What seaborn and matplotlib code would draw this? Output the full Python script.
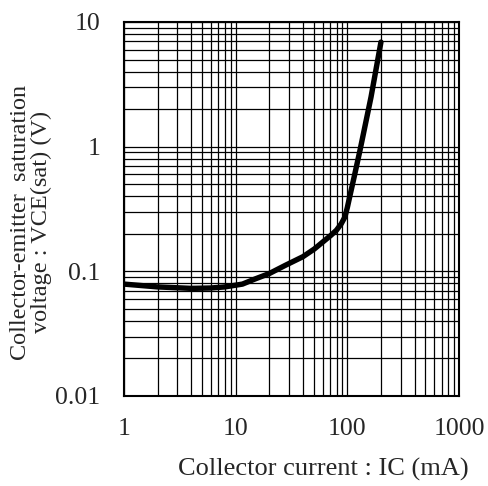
import matplotlib
matplotlib.use("Agg")
import matplotlib.pyplot as plt
import seaborn as sns
import pandas as pd
from matplotlib.ticker import LogLocator, NullFormatter, FixedLocator, FixedFormatter

# Data
ic_ma = [1, 2, 4, 6, 8, 11.5, 15, 20, 28, 40, 50.6, 71.5, 80, 88, 95, 100, 105, 117, 130, 163, 200]
vce_sat = [0.079, 0.075, 0.073, 0.0735, 0.075, 0.079, 0.087, 0.096, 0.112, 0.131, 0.151,
           0.195, 0.214, 0.24, 0.272, 0.325, 0.396, 0.611, 0.94, 2.5, 6.9]
x_ticks = [1, 10, 100, 1000]
x_tick_labels = ["1", "10", "100", "1000"]
y_ticks = [0.01, 0.1, 1, 10]
y_tick_labels = ["0.01", "0.1", "1", "10"]

sns.set_style("white")
plt.rcParams["font.family"] = ["Liberation Serif", "DejaVu Serif"]

df = pd.DataFrame({"ic": ic_ma, "vce": vce_sat})

fig = plt.figure(figsize=(4.88, 4.86), dpi=100)
ax = fig.add_axes([124 / 488, 1 - 396 / 486, 335 / 488, 374 / 486])

sns.lineplot(data=df, x="ic", y="vce", ax=ax, color="black", linewidth=3.9,
             zorder=5, solid_joinstyle="round", solid_capstyle="round")

ax.set_xscale("log")
ax.set_yscale("log")
ax.set_xlim(1, 1000)
ax.set_ylim(0.01, 10)

ax.xaxis.set_major_locator(FixedLocator(x_ticks))
ax.xaxis.set_major_formatter(FixedFormatter(x_tick_labels))
ax.yaxis.set_major_locator(FixedLocator(y_ticks))
ax.yaxis.set_major_formatter(FixedFormatter(y_tick_labels))
ax.xaxis.set_minor_locator(LogLocator(base=10, subs=range(2, 10)))
ax.yaxis.set_minor_locator(LogLocator(base=10, subs=range(2, 10)))
ax.xaxis.set_minor_formatter(NullFormatter())
ax.yaxis.set_minor_formatter(NullFormatter())

ax.grid(True, which="both", color="black", linewidth=0.9)
ax.tick_params(which="both", length=0, labelsize=18.5)
ax.tick_params(axis="x", pad=16)
ax.tick_params(axis="y", pad=17)

for s in ax.spines.values():
    s.set_color("black")
    s.set_linewidth(1.5)

ax.set_xlabel("Collector current : IC (mA)", fontsize=19)
ax.set_ylabel("Collector-emitter  saturation\nvoltage : VCE(sat) (V)", fontsize=17.5, linespacing=1.0)
ax.xaxis.set_label_coords(0.594, -0.165)
ax.yaxis.set_label_coords(-0.215, 0.465)

fig.savefig("out.png", dpi=100)
